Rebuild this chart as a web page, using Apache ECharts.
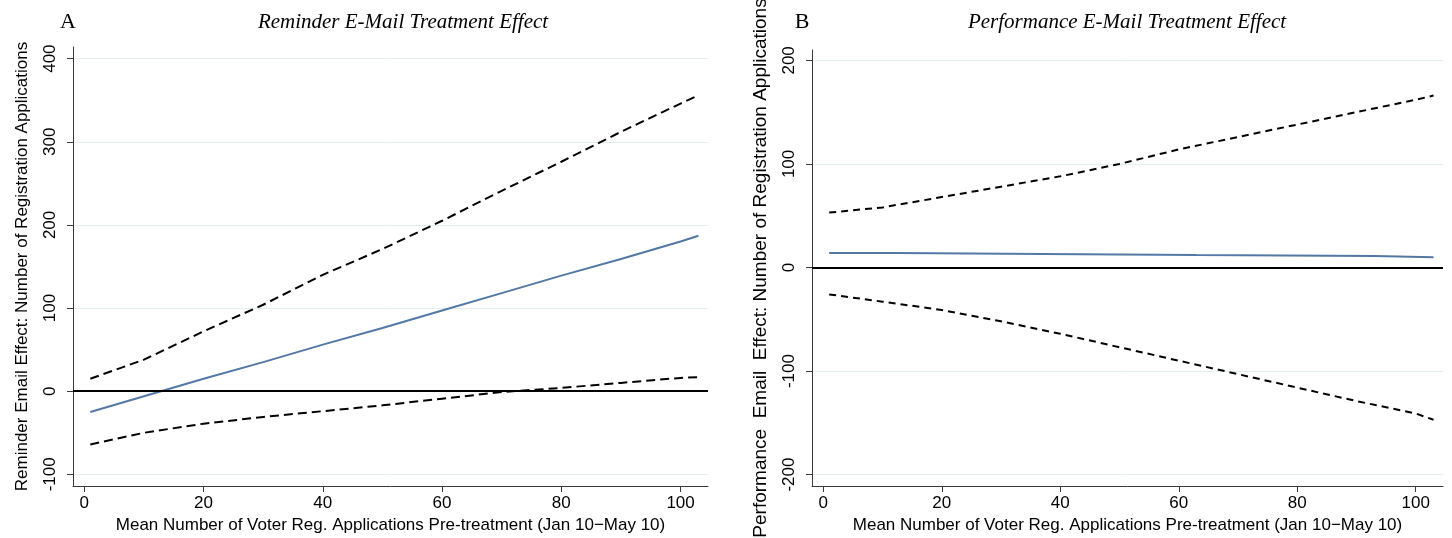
<!DOCTYPE html>
<html>
<head>
<meta charset="utf-8">
<script src="https://cdn.jsdelivr.net/npm/echarts@6/dist/echarts.min.js"></script>
<style>
  html, body { margin: 0; padding: 0; background: #fff; }
  #chart { width: 1452px; height: 538px; }
</style>
</head>
<body>
<div id="chart"></div>
<script>
// x positions where the curves were read
const xPoints = [1, 10, 20, 30, 40, 50, 60, 70, 80, 90, 100, 103];

// Panel A: reminder e-mail
const reminderUpper = [15, 38, 72, 104, 140, 171, 205, 241, 276, 312, 346, 356];
const reminderEffect = [-25, -6, 15, 35, 56, 76, 97, 118, 139, 159, 180, 187];
const reminderLower = [-64, -50, -39, -31, -24, -17, -9, -1, 4, 10, 16, 17];

// Panel B: performance e-mail
const perfUpper = [53, 58, 68, 78, 88, 100, 114, 126, 138, 150, 162, 166];
const perfLower = [-26, -33, -41, -52, -64, -77, -90, -103, -116, -129, -141, -147];
const perfStepX = [1, 12.5, 37, 63, 93, 103];
const perfEffect = [14, 13, 12, 11, 10, 10];

const xTicks = [0, 20, 40, 60, 80, 100];
const yTicksA = [-100, 0, 100, 200, 300, 400];
const yTicksB = [-200, -100, 0, 100, 200];

const xTitle = "Mean Number of Voter Reg. Applications Pre-treatment (Jan 10\u2212May 10)";
const yTitleA = "Reminder Email Effect: Number of Registration Applications";
const yTitleB = "Performance  Email  Effect: Number of Registration Applications";

const BLUE = "#5378a6";
const AXIS = "#3a3a3a";
const GRID = "#e4eef1";
const SANS = "'Liberation Sans', Arial, sans-serif";
const SERIF = "'Liberation Serif', 'Times New Roman', serif";

function zip(xs, ys) { return xs.map((x, i) => [x, ys[i]]); }

function xAxisFor(gridIndex) {
  return {
    type: "value", gridIndex, min: -1.9, max: 104.6,
    name: xTitle, nameLocation: "middle", nameGap: 30,
    nameTextStyle: { color: "#000", fontSize: 17, fontFamily: SANS },
    axisLine: { show: true, onZero: false, lineStyle: { color: AXIS, width: 1 } },
    axisTick: { show: true, length: 6, customValues: xTicks, lineStyle: { color: AXIS } },
    axisLabel: { customValues: xTicks, margin: 9, color: "#000", fontSize: 17, fontFamily: SANS },
    splitLine: { show: false },
  };
}

function yAxisFor(gridIndex, min, max, ticks, title, nameSize) {
  return {
    type: "value", gridIndex, min, max,
    name: title, nameLocation: "middle", nameGap: 42,
    nameTextStyle: { color: "#000", fontSize: nameSize, fontFamily: SANS },
    axisLine: { show: true, onZero: false, lineStyle: { color: AXIS, width: 1 } },
    axisTick: { show: true, length: 6, customValues: ticks, lineStyle: { color: AXIS } },
    axisLabel: { customValues: ticks, rotate: 90, margin: 14, color: "#000", fontSize: 17, fontFamily: SANS },
    splitLine: { show: true, lineStyle: { color: GRID, width: 1 } },
  };
}

function dashed(idx, data, dash) {
  return {
    type: "line", xAxisIndex: idx, yAxisIndex: idx, data,
    symbol: "none", lineStyle: { color: "#000", width: 2, type: dash },
    z: 3,
  };
}

const zeroLine = {
  silent: true, symbol: "none", label: { show: false },
  lineStyle: { color: "#000", width: 2, type: "solid" },
  data: [{ yAxis: 0 }],
};

const option = {
  animation: false,
  backgroundColor: "#fff",
  grid: [
    { left: 73, top: 47, width: 635, height: 439, outerBoundsMode: "none" },
    { left: 812, top: 50, width: 631, height: 436, outerBoundsMode: "none" },
  ],
  xAxis: [xAxisFor(0), xAxisFor(1)],
  yAxis: [
    yAxisFor(0, -114, 414, yTicksA, yTitleA, 17),
    yAxisFor(1, -211, 210, yTicksB, yTitleB, 19),
  ],
  graphic: [
    { type: "text", x: 68, y: 22, style: { text: "A", align: "center", verticalAlign: "middle", font: "22px " + SERIF, fill: "#000" } },
    { type: "text", x: 403, y: 22, style: { text: "Reminder E-Mail Treatment Effect", align: "center", verticalAlign: "middle", font: "italic 21px " + SERIF, fill: "#000" } },
    { type: "text", x: 802, y: 22, style: { text: "B", align: "center", verticalAlign: "middle", font: "22px " + SERIF, fill: "#000" } },
    { type: "text", x: 1127, y: 22, style: { text: "Performance E-Mail Treatment Effect", align: "center", verticalAlign: "middle", font: "italic 21px " + SERIF, fill: "#000" } },
  ],
  series: [
    {
      type: "line", xAxisIndex: 0, yAxisIndex: 0, data: zip(xPoints, reminderEffect),
      symbol: "none", lineStyle: { color: BLUE, width: 2 }, z: 4, markLine: zeroLine,
    },
    dashed(0, zip(xPoints, reminderUpper), [9, 5]),
    dashed(0, zip(xPoints, reminderLower), [9, 5]),
    {
      type: "line", xAxisIndex: 1, yAxisIndex: 1, data: zip(perfStepX, perfEffect), step: "end",
      symbol: "none", lineStyle: { color: BLUE, width: 2 }, z: 4, markLine: zeroLine,
    },
    dashed(1, zip(xPoints, perfUpper), [7, 5]),
    dashed(1, zip(xPoints, perfLower), [7, 5]),
  ],
};

const chart = echarts.init(document.getElementById("chart"));
chart.setOption(option);
</script>
</body>
</html>
